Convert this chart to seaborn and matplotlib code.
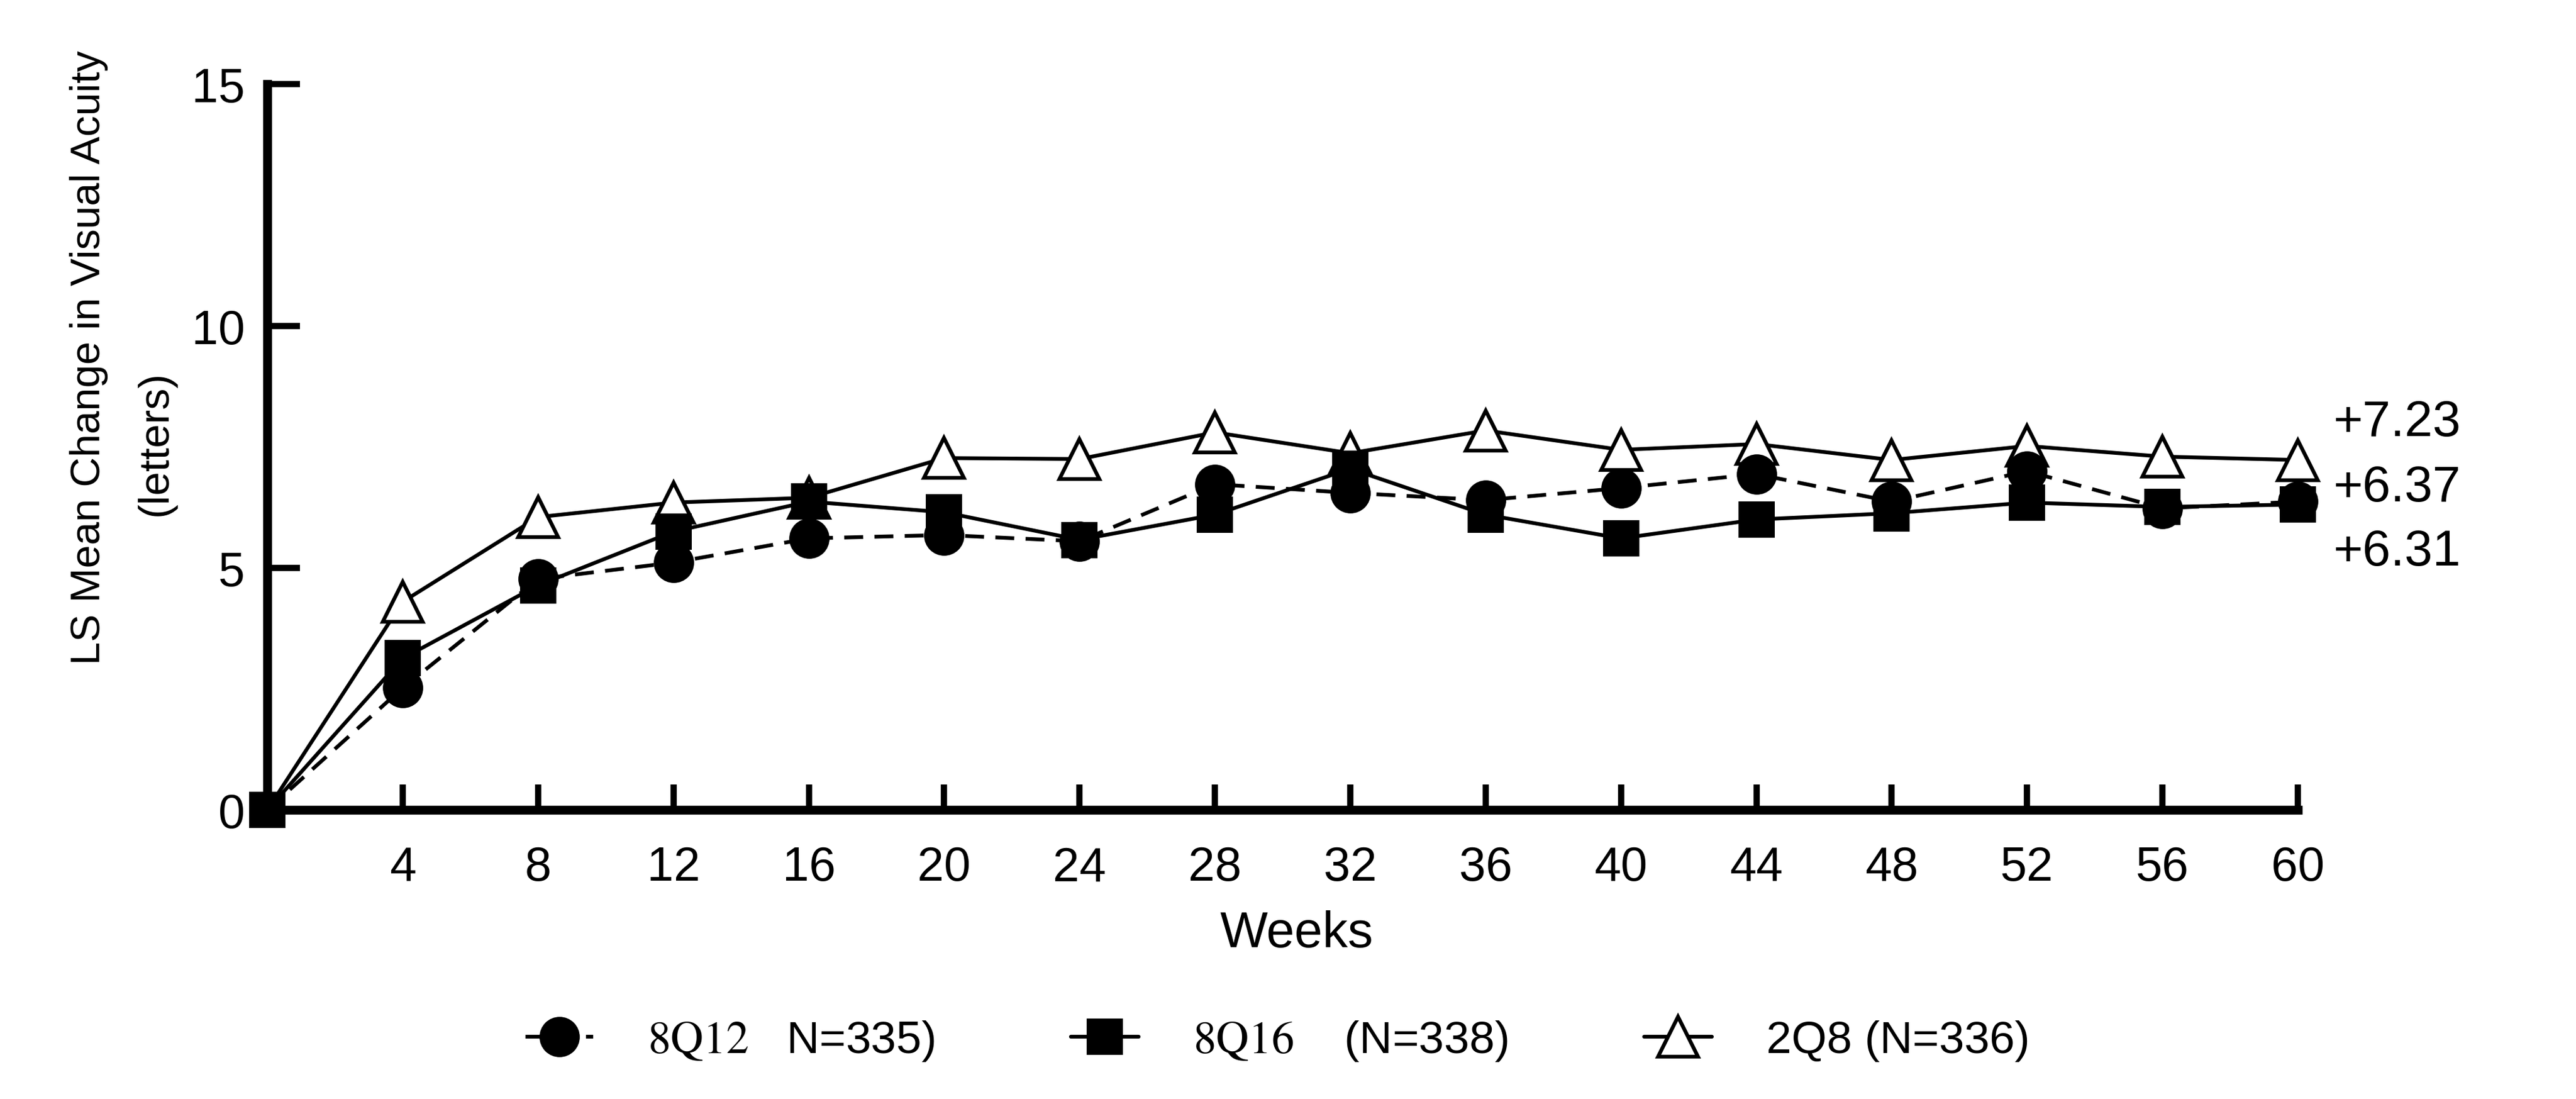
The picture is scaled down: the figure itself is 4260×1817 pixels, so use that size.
import pandas as pd
import seaborn as sns
import matplotlib.pyplot as plt
from matplotlib import font_manager

# LS mean change in BCVA (letters) by visit
weeks = [0, 4, 8, 12, 16, 20, 24, 28, 32, 36, 40, 44, 48, 52, 56, 60]
q12 = [0, 2.52, 4.77, 5.11, 5.61, 5.68, 5.55, 6.73, 6.55, 6.40, 6.65, 6.94, 6.37, 7.00, 6.23, 6.37]
q16 = [0, 3.13, 4.64, 5.75, 6.37, 6.15, 5.58, 6.10, 7.05, 6.10, 5.61, 6.00, 6.13, 6.35, 6.26, 6.31]
q8 = [0, 4.30, 6.05, 6.35, 6.45, 7.27, 7.25, 7.80, 7.37, 7.84, 7.44, 7.56, 7.23, 7.52, 7.30, 7.23]

labels = {
    "q12": r"$\mathrm{8Q12}$   N=335)",
    "q16": r"$\mathrm{8Q16}$    (N=338)",
    "q8": "2Q8 (N=336)",
}
end_labels = ["+7.23", "+6.37", "+6.31"]
end_y = [8.01, 6.66, 5.34]

sns.set_style("ticks")
plt.rcParams["font.family"] = ["Liberation Sans", "DejaVu Sans"]
plt.rcParams["mathtext.fontset"] = "stix"
for key in ["axes.edgecolor", "xtick.color", "ytick.color", "text.color", "axes.labelcolor"]:
    plt.rcParams[key] = "black"

# the y title in the original is set in a narrow face
installed = {f.name for f in font_manager.fontManager.ttflist}
narrow = "Liberation Sans Narrow" if "Liberation Sans Narrow" in installed else None

df = pd.DataFrame({"week": weeks, "q12": q12, "q16": q16, "q8": q8})

fig = plt.figure(figsize=(14.2, 6.06), dpi=300)
ax = fig.add_axes([0.1038, 0.263, 0.892 - 0.1038, 0.923 - 0.263])

# open triangles first so the filled markers sit on top of them
sns.lineplot(data=df, x="week", y="q8", ax=ax, color="black", lw=1.5,
             marker="^", markersize=16, markerfacecolor="white",
             markeredgecolor="black", markeredgewidth=1.5, markevery=list(range(1, 16)),
             label=labels["q8"], legend=False, clip_on=False, zorder=3)
sns.lineplot(data=df, x="week", y="q12", ax=ax, color="black", lw=1.5,
             ls=(0, (5, 3)), marker="o", markersize=16,
             markeredgecolor="black", markeredgewidth=0, markevery=list(range(1, 16)),
             label=labels["q12"], legend=False, clip_on=False, zorder=4)
sns.lineplot(data=df, x="week", y="q16", ax=ax, color="black", lw=1.5,
             marker="s", markersize=14.5, markeredgewidth=0,
             label=labels["q16"], legend=False, clip_on=False, zorder=5)

ax.set_xlim(0, 60)
ax.set_ylim(0, 15)
ax.set_xticks(weeks[1:])
ax.set_yticks([0, 5, 10, 15])
ax.tick_params(axis="x", direction="in", length=10, width=2.5, pad=14, labelsize=19)
ax.tick_params(axis="y", direction="in", length=13, width=2.5, pad=9, labelsize=19)
sns.despine(ax=ax)
for side in ["left", "bottom"]:
    ax.spines[side].set_linewidth(3.5)

ax.set_xlabel("Weeks", fontsize=20)
ax.xaxis.set_label_coords(0.507, -0.17)
ax.xaxis.label.set_va("center")

if narrow:
    ax.set_ylabel("LS Mean Change in Visual Acuity", fontsize=19, family=narrow)
else:
    ax.set_ylabel("LS Mean Change in Visual Acuity", fontsize=16.5)
ax.yaxis.set_label_coords(-0.0878, 0.624)
ax.yaxis.label.set_va("center")
ax.text(-0.0551, 0.506, "(letters)", transform=ax.transAxes, rotation=90,
        fontsize=17, ha="center", va="center", family=narrow or "Liberation Sans")

for txt, yv in zip(end_labels, end_y):
    ax.text(61.05, yv, txt, fontsize=20, ha="left", va="center", clip_on=False)

lines = {ln.get_label(): ln for ln in ax.get_lines()}
handles = [lines[labels[k]] for k in ["q12", "q16", "q8"]]
fig.legend(handles, [labels[k] for k in ["q12", "q16", "q8"]],
           loc="center", bbox_to_anchor=(0.496, 0.053), ncol=3, frameon=False,
           fontsize=18, handlelength=1.5, handletextpad=1.2, columnspacing=3.0)

fig.savefig("out.png", dpi=300, facecolor="white")
